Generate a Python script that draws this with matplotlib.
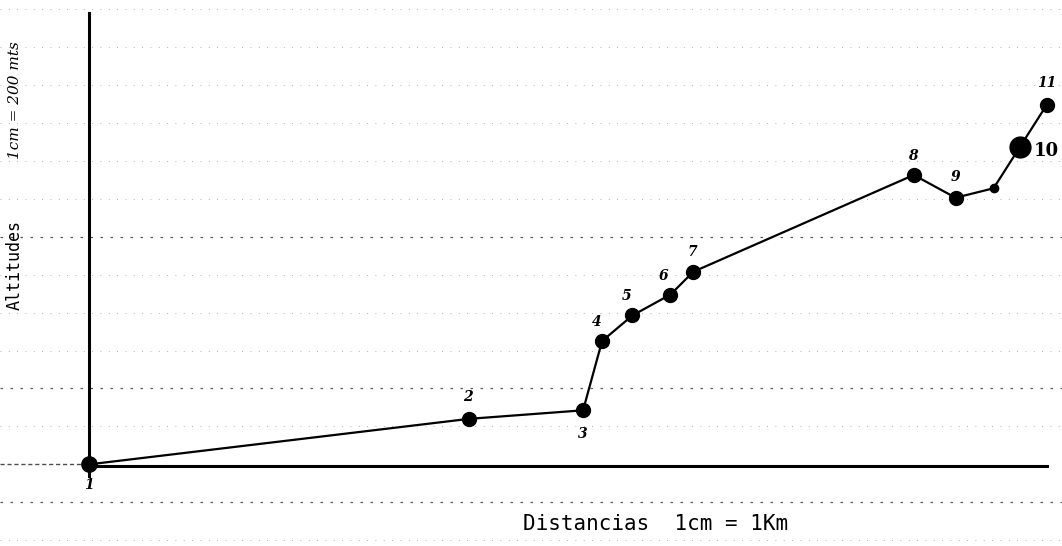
import matplotlib.pyplot as plt

# Profile points: distance (km) and altitude (m)
labels = ['1', '2', '3', '4', '5', '6', '7', '8', '9', '', '10', '11']
distances = [0, 10.0, 13.0, 13.5, 14.3, 15.3, 15.9, 21.7, 22.8, 23.8, 24.5, 25.2]
altitudes = [0, 240, 285, 650, 785, 895, 1015, 1525, 1405, 1455, 1675, 1895]
marker_sizes = [11, 10, 10, 10, 10, 10, 10, 10, 10, 6, 15, 10]

# label offsets in points
label_offsets = [(0, -15), (-1, 16), (0, -17), (-4, 14), (-4, 14), (-5, 13),
                 (-1, 14), (-1, 14), (0, 15), (0, 0), (19, -3), (0, 16)]

km_per_cm = 1
m_per_cm = 200

fig = plt.figure(figsize=(10.62, 5.46), dpi=100)
ax = fig.add_axes([0, 0, 1, 1])
ax.set_xlim(-2.34, 25.6)
ax.set_ylim(-430, 2447)
ax.axis('off')

# graph paper lines (1 cm apart)
for k in range(-2, 13):
    if k == 0:
        continue
    dark = k in (-1, 2, 6)
    ax.axhline(k * m_per_cm, color='0.35' if dark else '0.6',
               lw=0.9 if dark else 0.6, ls=(0, (2, 6)) if dark else (0, (1, 9)),
               zorder=0)

# axes drawn by hand
ax.plot([-2.34, 0], [0, 0], color='0.3', lw=1, ls=(0, (3, 2)), zorder=1)
ax.plot([0, 25.2], [-10, -10], color='black', lw=2.2, zorder=2)
ax.plot([0, 0], [-60, 2380], color='black', lw=2.2, zorder=2)

# profile line
ax.plot(distances, altitudes, color='black', lw=1.6, zorder=3)
for x, y, s in zip(distances, altitudes, marker_sizes):
    ax.plot(x, y, 'o', color='black', markersize=s, zorder=4)

for lab, x, y, off in zip(labels, distances, altitudes, label_offsets):
    if not lab:
        continue
    big = lab == '10'
    ax.annotate(lab, (x, y), xytext=off, textcoords='offset points',
                ha='center', va='center', fontsize=13 if big else 10,
                fontweight='bold', family='DejaVu Serif',
                style='normal' if big else 'italic')

# axis titles
ax.text(-1.95, 1050, 'Altitudes', rotation=90, ha='center', va='center',
        fontsize=12, family='DejaVu Sans Mono')
ax.text(-1.95, 1920, '1cm = 200 mts', rotation=90, ha='center', va='center',
        fontsize=11, family='DejaVu Serif', style='italic')
ax.text(14.9, -316, 'Distancias  1cm = 1Km', ha='center', va='center',
        fontsize=15, family='DejaVu Sans Mono')

fig.savefig('out.png', dpi=100)
